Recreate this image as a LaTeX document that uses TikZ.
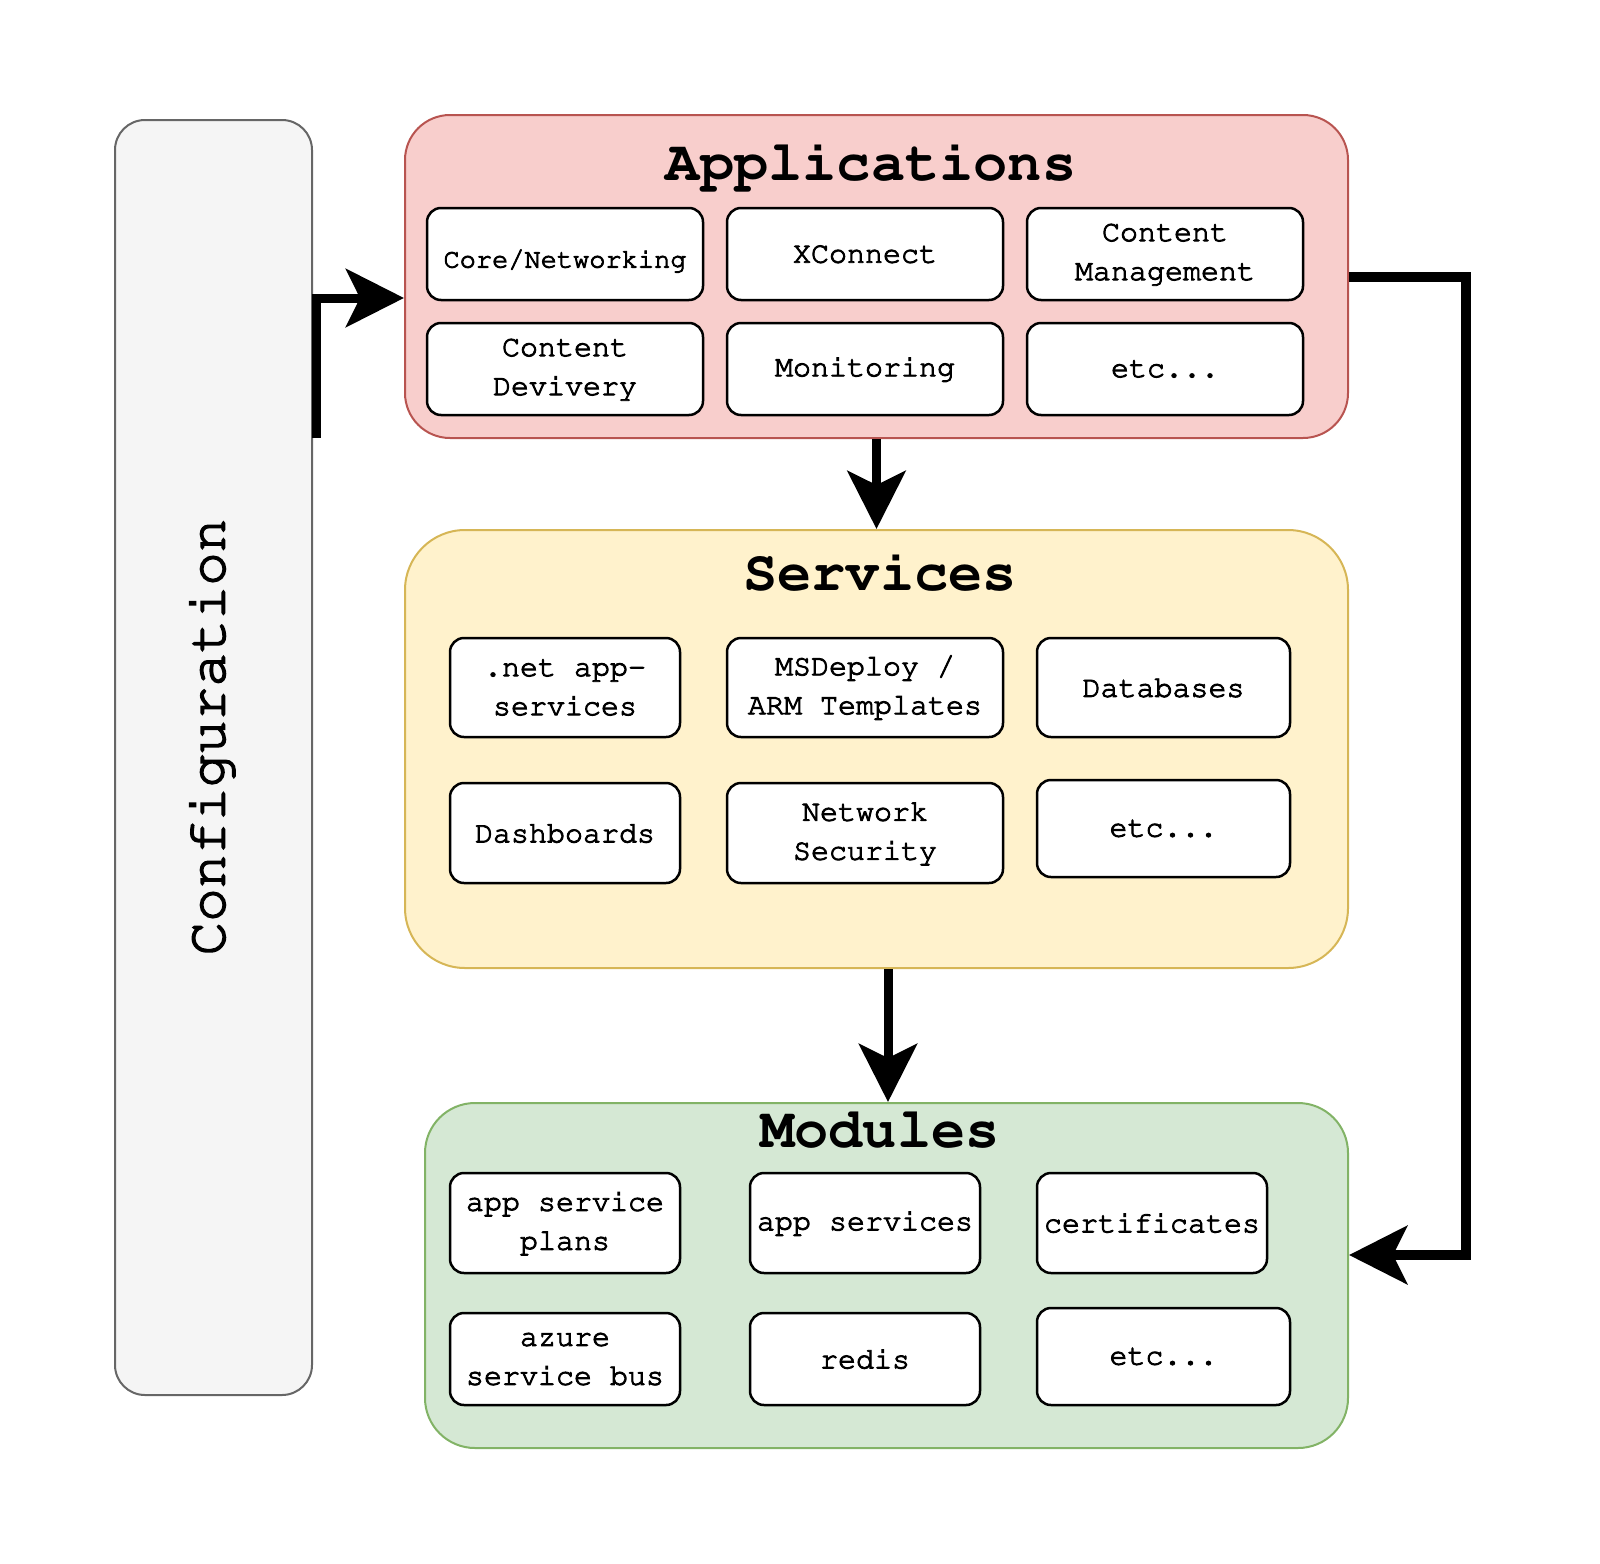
\documentclass[tikz,border=0pt]{standalone}
\usepackage[T1]{fontenc}
\usetikzlibrary{arrows.meta}
\newcommand{\courf}{\fontencoding{T1}\fontfamily{pcr}\selectfont}
\newcommand{\heavy}[2][0.9]{\special{pdf:literal direct 2 Tr #1 w}#2\special{pdf:literal direct 0 Tr}}
\definecolor{appfill}{HTML}{F8CECC}
\definecolor{appline}{HTML}{B85450}
\definecolor{srvfill}{HTML}{FFF2CC}
\definecolor{srvline}{HTML}{D6B656}
\definecolor{modfill}{HTML}{D5E8D4}
\definecolor{modline}{HTML}{82B366}
\definecolor{cfgfill}{HTML}{F5F5F5}
\definecolor{cfgline}{HTML}{666666}
\begin{document}
\begin{tikzpicture}[x=1pt,y=-1pt,
  container/.style={draw, line width=2pt, inner sep=0pt},
  inbox/.style={draw=black, fill=white, line width=2.5pt, rounded corners=14pt,
    inner sep=0pt, align=center, font=\courf\fontsize{30}{39}\selectfont},
  plaintext/.style={inner sep=0pt, align=center, font=\courf\fontsize{30}{39}\selectfont},
  title/.style={anchor=base, inner sep=0pt, font=\courf\bfseries\fontsize{57}{60}\selectfont},
  arr/.style={line width=9pt, -{Stealth[length=58pt,width=58pt,inset=14pt]}}
]
\useasboundingbox (0,0) rectangle (1600,1563);

% containers
\node[container, draw=cfgline, fill=cfgfill, rounded corners=30pt,
  minimum width=197pt, minimum height=1275pt] (config) at (213.5,757.5) {};
\node[rotate=90, inner sep=0pt, font=\courf\fontsize{56}{60}\selectfont] (cfgtxt) at (211,737) {\heavy[1.6]{Configuration}};

\node[container, draw=appline, fill=appfill, rounded corners=45pt,
  minimum width=943pt, minimum height=323pt] (apps) at (876.5,276.5) {};
\node[title] (appt) at (871,180) {Applications};

\node[container, draw=srvline, fill=srvfill, rounded corners=60pt,
  minimum width=943pt, minimum height=438pt] (serv) at (876.5,749) {};
\node[title] (servt) at (880,590) {Services};

\node[container, draw=modline, fill=modfill, rounded corners=50pt,
  minimum width=923pt, minimum height=345pt] (mods) at (886.5,1275.5) {};
\node[title] (modst) at (880,1147) {Modules};

% Applications items
\begin{scope}[every node/.append style={minimum width=276pt, minimum height=92pt}]
\node[inbox] (core) at (565,254) {};
\node[inbox] (xcon) at (865,254) {\heavy{XConnect}};
\node[inbox] (cman) at (1165,254) {\heavy{Content}\\\heavy{Management}};
\node[inbox] (cdel) at (565,369) {\heavy{Content}\\\heavy{Devivery}};
\node[inbox] (moni) at (865,369) {\heavy{Monitoring}};
\node[inbox] (aetc) at (1165,369) {\heavy{etc...}};
\end{scope}
\node[plaintext, font=\courf\fontsize{27}{39}\selectfont] (coretxt) at (565,261) {\heavy{Core/Networking}};

% Services items
\node[inbox, minimum width=230pt, minimum height=99pt] (net) at (565,687.5) {\heavy{.net app-}\\\heavy{services}};
\node[inbox, minimum width=276pt, minimum height=99pt] (msd) at (865,687.5) {\heavy{MSDeploy /}\\\heavy{ARM Templates}};
\node[inbox, minimum width=253pt, minimum height=99pt] (db) at (1163.5,687.5) {\heavy{Databases}};
\node[inbox, minimum width=230pt, minimum height=100pt] (dash) at (565,833) {\heavy{Dashboards}};
\node[inbox, minimum width=276pt, minimum height=100pt] (nsec) at (865,833) {\heavy{Network}\\\heavy{Security}};
\node[inbox, minimum width=253pt, minimum height=97pt] (setc) at (1163.5,828.5) {\heavy{etc...}};

% Modules items
\node[inbox, minimum width=230pt, minimum height=100pt] (asp) at (565,1223) {\heavy{app service}\\\heavy{plans}};
\node[inbox, minimum width=230pt, minimum height=100pt] (asv) at (865,1223) {\heavy{app services}};
\node[inbox, minimum width=230pt, minimum height=100pt] (cert) at (1152,1223) {\heavy{certificates}};
\node[inbox, minimum width=230pt, minimum height=92pt] (asb) at (565,1359) {\heavy{azure}\\\heavy{service bus}};
\node[inbox, minimum width=230pt, minimum height=92pt] (redis) at (865,1359) {\heavy{redis}};
\node[inbox, minimum width=253pt, minimum height=97pt] (metc) at (1163.5,1356.5) {\heavy{etc...}};

% connectors
\coordinate (cfgout) at (316,438);
\draw[arr] (cfgout) |- ([yshift=-21.5pt]apps.west);
\draw[arr] (apps.south) -- (serv.north);
\draw[arr] ([xshift=11.5pt]serv.south) -- ([xshift=11.5pt]serv.south |- mods.north);
\draw[line width=10pt, line join=miter, -{Stealth[length=58pt,width=58pt,inset=14pt]}]
  (apps.east) -- ++(117,0) |- ([yshift=20.5pt]mods.east);
\end{tikzpicture}
\end{document}
